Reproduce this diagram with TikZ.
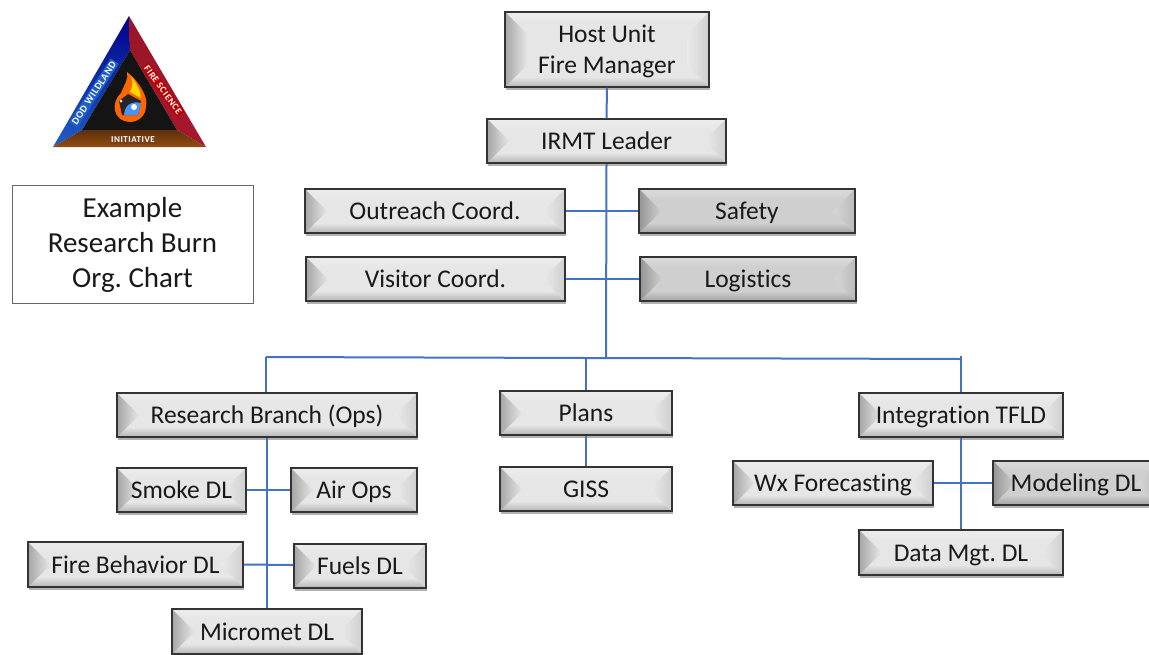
\documentclass[tikz,border=0pt]{standalone}
\usepackage{fontspec}
\setmainfont[Ligatures=CommonOff]{Carlito}
\usetikzlibrary{shadows,calc}
\definecolor{linkblue}{HTML}{4472C4}
\definecolor{boxgrey}{HTML}{E6E6E6}
\definecolor{boxdark}{HTML}{CFCFCF}
\definecolor{logoblue}{HTML}{1F5FC8}
\definecolor{logored}{HTML}{A8182C}
\definecolor{logobrown}{HTML}{7A4014}
\newcommand{\boxstrut}{\rule[-6.8pt]{0pt}{31pt}}
\newcommand{\exstrut}{\rule[-9.5pt]{0pt}{35.5pt}}
\tikzset{
  x=1pt,y=-1pt,
  link/.style={draw=linkblue,line width=2pt},
  bevelbase/.style={draw=black!80,line width=1.5pt,inner sep=0pt,align=center,font=\fontsize{25.5}{31}\selectfont,text=black!90,
    drop shadow={shadow xshift=1pt,shadow yshift=-2.5pt,opacity=.3,fill=black}},
  bevelbox/.style={bevelbase,fill=#1,path picture={
    \coordinate (nw) at (path picture bounding box.north west);
    \coordinate (ne) at (path picture bounding box.north east);
    \coordinate (sw) at (path picture bounding box.south west);
    \coordinate (se) at (path picture bounding box.south east);
    \shade[top color=#1!75!white,bottom color=#1] (nw)--(ne)--([xshift=-10pt,yshift=-10pt]ne)--([xshift=10pt,yshift=-10pt]nw)--cycle;
    \shade[bottom color=#1!78!black,top color=#1] (sw)--(se)--([xshift=-10pt,yshift=10pt]se)--([xshift=10pt,yshift=10pt]sw)--cycle;
    \shade[left color=#1!72!black,right color=#1] (nw)--([xshift=22pt,yshift=-22pt]nw)--([xshift=22pt,yshift=22pt]sw)--(sw)--cycle;
    \shade[right color=#1!90!black,left color=#1!85!white] (ne)--([xshift=-22pt,yshift=-22pt]ne)--([xshift=-22pt,yshift=22pt]se)--(se)--cycle;
  }},
  plain/.style={draw=black!60,line width=.7pt,fill=white,align=center,font=\fontsize{29}{35}\selectfont,text=black!90},
  logolabel/.style={text=white,font=\bfseries\fontsize{#1}{#1}\selectfont\addfontfeature{LetterSpace=6},inner sep=1.5pt},
}
\newcommand{\boxat}[7][]{% name, colour, x1,y1,x2,y2, text
  \node[bevelbox=#2,minimum width=#5pt-#3pt,minimum height=#6pt-#4pt] (#1) at ({(#3+#5)/2},{(#4+#6)/2}) {\boxstrut #7\boxstrut};}
\begin{document}
\frenchspacing
\begin{tikzpicture}
\clip (0,0) rectangle (1149,654);
\useasboundingbox (0,0) rectangle (1149,654);
% logo
\shade[top color=blue!55!black,bottom color=logoblue] (129,16)--(53,147)--(82,130)--(130,50)--cycle;
\shade[top color=logored!90!black,bottom color=logored] (129,16)--(206,147)--(177,130)--(130,50)--cycle;
\fill[black!92] (130,50)--(82,130)--(177,130)--cycle;
\shade[top color=logobrown!75!black,bottom color=logobrown!80!orange] (53,147)--(82,130)--(177,130)--(206,147)--cycle;
\node[logolabel=10,fill=logoblue,rotate=57] (dod) at (94,93) {DOD WILDLAND};
\node[logolabel=9.5,fill=red!75!black,rotate=-54] (fs) at (163,90) {FIRE SCIENCE};
\node[logolabel=9,fill=logobrown] (ini) at (133,140) {INITIATIVE};
\fill[orange!80!red] (130,122) .. controls (112,121) and (111,102) .. (121,93) .. controls (124,85) and (129,79) .. (127,72) .. controls (138,80) and (149,98) .. (146,106) .. controls (146,116) and (138,122) .. (130,122)--cycle;
\fill[yellow!75!orange] (130,92) .. controls (133,86) and (133,82) .. (131,76) .. controls (137,84) and (141,92) .. (141,98)--cycle;
\fill[black!85] (128,94)--(119,101)--(122,115)--(138,115)--(141,101)--cycle;
\fill[blue!60!white!70!cyan] (124,115) .. controls (125,104) and (132,101) .. (141,103)--(138,115)--cycle;
\fill[white] (134,107) circle (3);
\fill[white] (121,101) circle (1.5);
% example
\node[plain,minimum width=241pt,minimum height=118pt] (ex) at (132.5,244) {\exstrut Example\\Research Burn\\Org. Chart\exstrut};
% boxes
\boxat[host]{boxgrey}{505}{12}{709}{87}{Host Unit\\Fire Manager}
\boxat[irmt]{boxgrey}{487}{119}{726}{163}{IRMT Leader}
\boxat[outreach]{boxgrey}{305}{189}{565}{233}{Outreach Coord.}
\boxat[safety]{boxdark}{639}{189}{855}{233}{Safety}
\boxat[visitor]{boxgrey}{306}{257}{565}{301}{Visitor Coord.}
\boxat[logistics]{boxdark}{640}{257}{856}{301}{Logistics}
\boxat[research]{boxgrey}{117}{393}{417}{437}{Research Branch (Ops)}
\boxat[plans]{boxgrey}{500}{391}{672}{435}{Plans}
\boxat[giss]{boxgrey}{500}{467}{672}{511}{GISS}
\boxat[integration]{boxgrey}{859}{393}{1063}{437}{Integration TFLD}
\boxat[wx]{boxgrey}{733}{461}{933}{505}{Wx Forecasting}
\boxat[modeling]{boxdark}{993}{461}{1159}{505}{Modeling DL}
\boxat[data]{boxgrey}{859}{530}{1063}{575}{Data Mgt. DL}
\boxat[smoke]{boxgrey}{117}{468}{246}{512}{Smoke DL}
\boxat[airops]{boxgrey}{291}{468}{417}{512}{Air Ops}
\boxat[firebeh]{boxgrey}{28}{542}{243}{587}{Fire Behavior DL}
\boxat[fuels]{boxgrey}{294}{544}{426}{588}{Fuels DL}
\boxat[micromet]{boxgrey}{172}{609}{362}{654}{Micromet DL}
% bus coordinates
\coordinate (busL) at (266,357);
\coordinate (busP) at (586,358);
\coordinate (busC) at (606,358);
\coordinate (busR) at (961,359);
\coordinate (busTick) at (961,356);
% connectors
\draw[link] (host.south) -- (irmt.north);
\draw[link] (irmt.south) -- (busC);
\draw[link] (outreach.east) -- (safety.west);
\draw[link] (visitor.east) -- (logistics.west);
\draw[link] (busL) -- (busP) -- (busC) -- (busR);
\draw[link] (busL) -- ($(research.north)+(-1,0)$);
\draw[link] (busP) -- (plans.north);
\draw[link] (busTick) -- (integration.north);
\draw[link] (plans.south) -- (giss.north);
\draw[link] (research.south) -- (micromet.north);
\draw[link] (smoke.east) -- (airops.west);
\draw[link] (firebeh.east) -- ($(fuels.west)+(0,-1)$);
\draw[link] (integration.south) -- (data.north);
\draw[link] (wx.east) -- (modeling.west);
\end{tikzpicture}
\end{document}
